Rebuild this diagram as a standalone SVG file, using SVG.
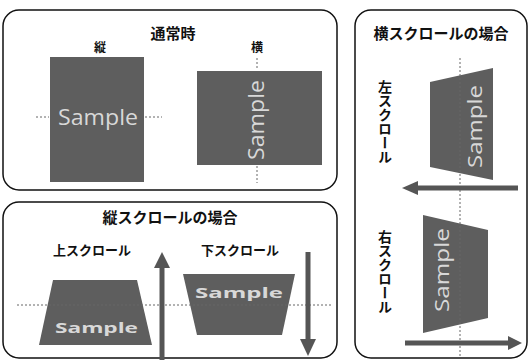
<svg xmlns="http://www.w3.org/2000/svg" width="529" height="360" viewBox="0 0 529 360">
<defs>
<style>
.box{fill:#fff;stroke:#111;stroke-width:1.5}
.jp{font-family:"Noto Sans CJK JP","Noto Sans CJK SC",sans-serif;font-weight:bold;fill:#111}
.card{fill:#5e5e5e}
.smp{font-family:"Open Sans","DejaVu Sans",sans-serif;fill:#d8d8d8}
.guide{stroke:#666;stroke-width:1;stroke-dasharray:2 2;fill:none}
.arr{stroke:#555;stroke-width:5;fill:none}
.head{fill:#555}
</style>
</defs>
<rect width="529" height="360" fill="#fff"/>
<g id="panel-normal">
<rect class="box" x="3" y="10" width="334" height="180" rx="16"/>
<text class="jp" x="173" y="39" font-size="15" text-anchor="middle">通常時</text>
<text class="jp" x="100" y="52" font-size="12" text-anchor="middle">縦</text>
<text class="jp" x="257" y="52" font-size="12" text-anchor="middle">横</text>
</g>
<g id="node-tate">
<rect class="card" x="50" y="57" width="94" height="125"/>
<text class="smp" x="58" y="125" font-size="22" textLength="80" lengthAdjust="spacingAndGlyphs">Sample</text>
</g>
<g id="node-yoko">
<rect class="card" x="197" y="71" width="125" height="94"/>
<text class="smp" transform="translate(264,160) rotate(-90)" font-size="22" textLength="80" lengthAdjust="spacingAndGlyphs">Sample</text>
</g>
<g id="panel-vscroll">
<rect class="box" x="3" y="202" width="334" height="156" rx="16"/>
<text class="jp" x="170" y="223" font-size="15" text-anchor="middle">縦スクロールの場合</text>
<text class="jp" x="92" y="255" font-size="13" text-anchor="middle">上スクロール</text>
<text class="jp" x="240" y="255" font-size="13" text-anchor="middle">下スクロール</text>
</g>
<g id="node-up">
<polygon class="card" points="53,280 137,280 152,345 39,345"/>
<text class="smp" transform="translate(55,333) scale(1,0.75)" font-size="20" font-weight="bold" textLength="83" lengthAdjust="spacingAndGlyphs">Sample</text>
</g>
<g id="node-down">
<polygon class="card" points="183,274 295,274 282,335 197,335"/>
<text class="smp" transform="translate(195,298) scale(1,0.7)" font-size="20" font-weight="bold" textLength="88" lengthAdjust="spacingAndGlyphs">Sample</text>
</g>
<g id="panel-hscroll">
<rect class="box" x="355" y="10" width="172" height="348" rx="16"/>
<text class="jp" x="441" y="39" font-size="15" text-anchor="middle">横スクロールの場合</text>
<text class="jp" x="385" y="80" font-size="14" writing-mode="tb">左スクロール</text>
<text class="jp" x="385" y="230" font-size="14" writing-mode="tb">右スクロール</text>
</g>
<g id="node-left">
<polygon class="card" points="430,82 493,68 493,180 430,167"/>
<text class="smp" transform="translate(482,168) rotate(-90)" font-size="20" textLength="83" lengthAdjust="spacingAndGlyphs">Sample</text>
</g>
<g id="node-right">
<polygon class="card" points="423,215 488,230 488,318 423,333"/>
<text class="smp" transform="translate(449,312) rotate(-90)" font-size="20" textLength="84" lengthAdjust="spacingAndGlyphs">Sample</text>
</g>
<g id="connectors">
<line class="guide" x1="36" y1="117" x2="49" y2="117"/>
<line class="guide" x1="145" y1="117" x2="162" y2="117"/>
<line class="guide" x1="257" y1="58" x2="257" y2="70"/>
<line class="guide" x1="257" y1="166" x2="257" y2="183"/>
<line class="guide" x1="17" y1="305" x2="333" y2="305"/>
<line class="guide" x1="460" y1="58" x2="460" y2="358"/>
<line class="arr" x1="162" y1="360" x2="162" y2="264"/>
<polygon class="head" points="154,268 170,268 162,252"/>
<line class="arr" x1="308" y1="252" x2="308" y2="342"/>
<polygon class="head" points="300,339 316,339 308,356"/>
<line class="arr" x1="518" y1="188" x2="414" y2="188"/>
<polygon class="head" points="418,181 418,195 402,188"/>
<line class="arr" x1="405" y1="343" x2="510" y2="343"/>
<polygon class="head" points="508,336 508,350 522,343"/>
</g>
</svg>
